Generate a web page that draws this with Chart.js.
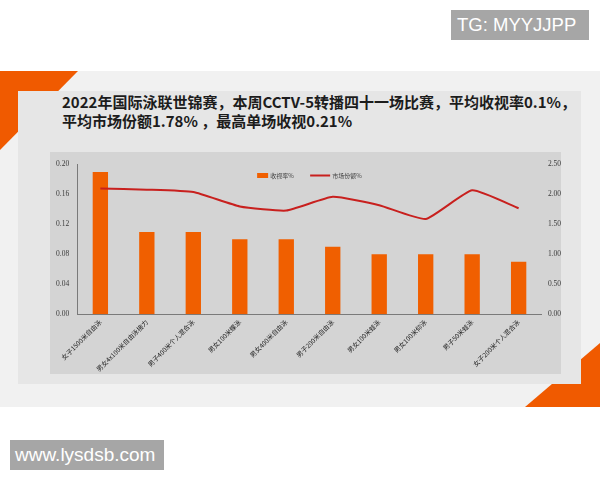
<!DOCTYPE html>
<html>
<head>
<meta charset="utf-8">
<script src="https://cdn.jsdelivr.net/npm/chart.js@4"></script>
<style>
  html,body{margin:0;padding:0;background:#fff;}
  body{width:600px;height:480px;position:relative;overflow:hidden;font-family:"Noto Sans CJK SC","Noto Sans",sans-serif;}
  .abs{position:absolute;}
  #band{left:0;top:71px;width:600px;height:336px;background:#f1f1f1;}
  #tri1{left:0;top:71px;width:0;height:0;border-top:79px solid #f05a00;border-right:78px solid transparent;}
  #tri2{left:525px;top:343px;width:0;height:0;border-bottom:64px solid #f05a00;border-left:75px solid transparent;}
  #panel{left:18px;top:91px;width:563px;height:293px;background:#e6e6e6;}
  #title{left:62px;top:93px;font-size:15px;line-height:18.5px;font-weight:bold;color:#1c1c1c;white-space:nowrap;}
  #chartbg{left:50px;top:152px;width:511px;height:222px;background:#d4d4d4;}
  #chartbox{left:42px;top:152px;width:528px;height:229px;}
  .tag{background:#a6a6a6;color:#fff;font-family:"Liberation Sans",Arial,sans-serif;white-space:nowrap;}
  #tg{left:451px;top:10px;width:138px;height:30px;font-size:18.5px;line-height:30px;padding-left:6px;box-sizing:border-box;}
  #www{left:10px;top:440px;width:154px;height:30px;font-size:19px;line-height:30px;padding-left:5px;box-sizing:border-box;}
</style>
</head>
<body>
<div id="band" class="abs"></div>
<div id="tri1" class="abs"></div>
<div id="tri2" class="abs"></div>
<div id="panel" class="abs"></div>
<div id="title" class="abs">2022年国际泳联世锦赛，本周CCTV-5转播四十一场比赛，平均收视率0.1%，<br>平均市场份额1.78% ，最高单场收视0.21%</div>
<div id="chartbg" class="abs"></div>
<div id="chartbox" class="abs"><canvas id="c" width="528" height="229"></canvas></div>
<div id="tg" class="abs tag">TG: MYYJJPP</div>
<div id="www" class="abs tag">www.lysdsb.com</div>
<script>
const categories = ["女子1500米自由泳","男女4x100米自由泳接力","男子400米个人混合泳","男女100米蝶泳","男女400米自由泳","男子200米自由泳","男女100米蛙泳","男女100米仰泳","男子50米蛙泳","女子200米个人混合泳"];
const ratingLabel = "收视率%";
const ratingValues = [0.19,0.11,0.11,0.10,0.10,0.09,0.08,0.08,0.08,0.07];
const shareLabel = "市场份额%";
const shareValues = [2.10,2.08,2.04,1.80,1.73,1.96,1.82,1.59,2.07,1.77];
const leftTicks = [0.00,0.04,0.08,0.12,0.16,0.20];
const rightTicks = [0.00,0.50,1.00,1.50,2.00,2.50];

const barColor = "#f05f00";
const lineColor = "#c8201e";

const legendPlugin = {
  id: "customLegend",
  afterDraw(chart) {
    const ctx = chart.ctx;
    const a = chart.chartArea;
    const y = a.top + 11;
    ctx.save();
    ctx.font = "6px 'Noto Sans CJK SC'";
    ctx.textBaseline = "middle";
    const bx = a.left + 180;
    ctx.fillStyle = chart.data.datasets[0].backgroundColor;
    ctx.fillRect(bx, y - 2.5, 11, 5);
    ctx.fillStyle = "#444";
    ctx.fillText(chart.data.datasets[0].label, bx + 13, y);
    const lx = a.left + 233;
    ctx.strokeStyle = chart.data.datasets[1].borderColor;
    ctx.lineWidth = 2;
    ctx.beginPath(); ctx.moveTo(lx, y); ctx.lineTo(lx + 20, y); ctx.stroke();
    ctx.fillText(chart.data.datasets[1].label, lx + 22, y);
    ctx.restore();
  }
};

new Chart(document.getElementById("c"), {
  type: "bar",
  data: {
    labels: categories,
    datasets: [
      { type: "bar", label: ratingLabel, data: ratingValues, backgroundColor: barColor, yAxisID: "y", barPercentage: 0.33, categoryPercentage: 1, order: 2 },
      { type: "line", label: shareLabel, data: shareValues, borderColor: lineColor, backgroundColor: lineColor, borderWidth: 2, pointRadius: 0, tension: 0.15, yAxisID: "y1", order: 1 }
    ]
  },
  options: {
    responsive: false,
    animation: false,
    devicePixelRatio: 1,
    layout: { padding: { left: 6, right: 3, top: 8, bottom: 4 } },
    plugins: { legend: { display: false }, tooltip: { enabled: false } },
    scales: {
      x: {
        grid: { display: false, drawTicks: false },
        border: { display: true, color: "#7a7a7a", width: 1 },
        ticks: { minRotation: 45, maxRotation: 45, autoSkip: false, padding: 4, color: "#222", font: { family: "Noto Sans CJK SC", size: 6.5 } }
      },
      y: {
        position: "left", min: 0, max: 0.2,
        afterBuildTicks(s) { s.ticks = leftTicks.map(v => ({ value: v })); },
        grid: { display: false, drawTicks: false },
        border: { display: true, color: "#7a7a7a", width: 1 },
        ticks: { padding: 8, color: "#3a3a3a", font: { family: "Liberation Serif", size: 7.5 }, callback: v => v.toFixed(2) }
      },
      y1: {
        position: "right", min: 0, max: 2.5,
        afterBuildTicks(s) { s.ticks = rightTicks.map(v => ({ value: v })); },
        grid: { display: false, drawTicks: false },
        border: { display: false },
        ticks: { padding: 6, color: "#3a3a3a", font: { family: "Liberation Serif", size: 7.5 }, callback: v => v.toFixed(2) }
      }
    }
  },
  plugins: [legendPlugin]
});
</script>
</body>
</html>
